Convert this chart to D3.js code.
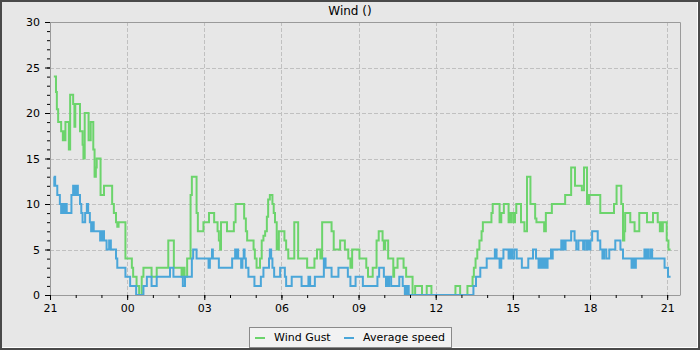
<!DOCTYPE html>
<html>
<head>
<meta charset="utf-8">
<script src="https://cdn.jsdelivr.net/npm/d3@7"></script>
<style>
body { margin: 0; background: #e7e7e7; }
text { font-family: "DejaVu Sans", sans-serif; font-size: 11px; fill: #000; }
</style>
</head>
<body>
<div class="render"></div>
<script>
"use strict";

// minutes after 21:00, value
var gust = [[9,24],[14,22.3],[16,20.4],[19,19],[26,18],[30,17],[33,18],[34,17],[36,19],[44,16],[47,22],[54,21],[57,18.5],[59,21],[70,18],[76,16.5],[78,15],[81,20],[90,17],[95,19],[101,16],[104,13],[107,14],[109,15],[118,11],[126,12],[145,10],[149,9],[154,8],[157,7.5],[160,8],[176,4],[191,3],[194,2],[202,1],[208,0],[214,2],[218,3],[237,2],[249,3],[276,6],[289,3],[307,2],[310,3],[314,2],[320,4],[328,11],[331,13],[342,9],[345,7],[358,8],[371,9],[383,8],[391,7],[394,6],[397,5],[399,8],[413,7],[429,8],[433,10],[453,8.4],[457,7],[460,6],[475,5],[478,4],[482,3],[490,4],[494,6],[498,6.5],[502,7],[506,8.6],[509,10.5],[513,11],[519,10],[522,9],[525,8],[529,5],[531,6],[533,5],[534,7],[547,6],[551,5],[556,4],[570,8],[579,4],[600,3],[617,4],[623,5],[631,4],[635,8],[657,7],[662,5],[677,6],[688,5],[696,4],[701,3],[705,5],[722,4],[738,3],[742,2],[753,3],[762,6],[767,7],[776,6],[779,5],[782,6],[789,4],[801,2],[803,3],[811,4],[825,3],[831,2],[846,0],[852,1],[868,0],[879,1],[890,0],[946,1],[957,0],[974,1],[986,2],[989,3],[993,4],[997,5],[1002,6],[1007,7],[1010,8],[1030,9],[1033,10],[1049,8],[1053,9],[1059,10],[1070,8],[1072,9],[1073,8],[1076,9],[1081,8],[1085,9],[1088,10],[1099,8],[1107,7],[1113,13],[1121,10],[1132,8.4],[1135,8],[1153,7],[1157,9],[1171,10],[1202,11],[1216,14],[1225,12],[1241,11.5],[1246,14],[1253,10],[1255,11],[1256,10],[1258,11],[1284,9],[1316,10],[1322,12],[1333,10],[1337,6],[1340,7],[1342,9],[1354,8],[1364,7],[1375,9],[1393,8],[1407,9],[1418,8],[1423,7],[1425,8],[1427,7],[1430,8],[1439,6],[1443,5],[1448,5]];

var avg = [[9,13],[10,12],[11,13],[12,12],[14,12],[17,11],[23,10],[26,9],[30,10],[33,9],[36,10],[39,9],[50,11],[54,12],[58,11],[62,12],[65,11],[70,10],[73,9],[76,8],[82,9],[86,10],[89,9],[93,8],[96,7],[99,8],[102,7],[117,6],[119,7],[121,6],[124,7],[126,6],[132,5],[138,6],[142,5],[154,4],[157,3],[176,2],[187,1],[201,0],[218,1],[226,2],[237,1],[249,2],[280,3],[288,2],[310,1],[315,2],[331,4],[334,5],[342,4],[370,3],[373,4],[378,5],[380,4],[394,3],[425,4],[432,5],[434,4],[436,5],[439,4],[446,3],[449,4],[452,5],[454,4],[457,3],[463,2],[477,1],[492,2],[498,3],[511,4],[513,5],[516,4],[519,3],[523,2],[537,3],[548,2],[551,1],[564,2],[587,1],[603,2],[607,1],[618,2],[639,4],[643,3],[657,2],[673,3],[695,2],[701,1],[713,2],[730,1],[764,2],[768,3],[779,2],[784,1],[786,2],[789,1],[791,2],[796,1],[815,2],[823,1],[828,0],[831,1],[834,0],[836,1],[837,0],[988,1],[994,2],[1004,3],[1019,4],[1038,5],[1042,4],[1049,3],[1053,4],[1058,5],[1070,4],[1074,5],[1078,4],[1083,5],[1089,4],[1101,3],[1116,4],[1127,5],[1134,4],[1140,3],[1142,4],[1144,3],[1147,4],[1149,3],[1152,4],[1154,3],[1157,4],[1159,3],[1161,4],[1169,5],[1171,4],[1173,5],[1176,5],[1193,6],[1196,5],[1198,6],[1201,5],[1203,6],[1216,7],[1224,6],[1228,5],[1233,6],[1244,5],[1247,6],[1252,5],[1256,6],[1257,5],[1261,6],[1265,7],[1278,6],[1284,5],[1289,4],[1293,5],[1298,4],[1305,5],[1319,6],[1331,5],[1337,4],[1357,3],[1359,4],[1361,3],[1363,4],[1365,3],[1367,4],[1387,5],[1390,4],[1392,5],[1396,4],[1401,5],[1405,4],[1434,3],[1442,2],[1448,2]];

var seriesNames = ["Wind Gust", "Average speed"];
var seriesColors = ["#6cd46c", "#4aa6d9"];
var yTicks = [0, 5, 10, 15, 20, 25, 30];
var title = "Wind ()";

var w = 700, h = 350;
var pL = 50, pR = 680, pT = 22, pB = 295;
var start = new Date(2024, 0, 1, 21, 0);
var spanMin = 1470;

function toDate(m) { return new Date(+start + m * 60000); }

var svg = d3.select(".render").append("svg").attr("width", w).attr("height", h);

svg.append("rect").attr("x", 1).attr("y", 1).attr("width", w - 2).attr("height", h - 2)
   .attr("fill", "#e7e7e7").attr("stroke", "#4a4a4a").attr("stroke-width", 2);
svg.append("path").attr("d", "M697.5,2V347.5H2").attr("fill", "none").attr("stroke", "#fff");

var x = d3.scaleTime().domain([start, toDate(spanMin)]).range([pL, pR]);
var y = d3.scaleLinear().domain([0, 30]).range([pB, pT]);

// grid
var grid = svg.append("g").attr("stroke", "#c0c0c0").attr("stroke-dasharray", "4,2").attr("shape-rendering", "crispEdges");
grid.selectAll(".gy").data(yTicks.filter(function (d) { return d > 0 && d < 30; })).enter().append("line")
   .attr("x1", pL).attr("x2", pR).attr("y1", function (d) { return Math.round(y(d)) + 0.5; })
   .attr("y2", function (d) { return Math.round(y(d)) + 0.5; });
grid.selectAll(".gx").data(x.ticks(d3.timeHour.every(3)).slice(1)).enter().append("line")
   .attr("y1", pT).attr("y2", pB).attr("x1", function (d) { return Math.round(x(d)) + 0.5; })
   .attr("x2", function (d) { return Math.round(x(d)) + 0.5; });

// plot frame top/right
svg.append("path").attr("d", "M" + pL + "," + (pT + 0.5) + "H" + (pR + 0.5) + "V" + pB)
   .attr("fill", "none").attr("stroke", "#9a9a9a");

svg.append("clipPath").attr("id", "clip").append("rect")
   .attr("x", pL).attr("y", pT).attr("width", pR - pL).attr("height", pB - pT + 1);

var line = d3.line().curve(d3.curveStepAfter)
   .x(function (d) { return x(toDate(d[0])); })
   .y(function (d) { return y(d[1]); });

[gust, avg].forEach(function (data, i) {
   svg.append("path").datum(data).attr("clip-path", "url(#clip)")
      .attr("fill", "none").attr("stroke", seriesColors[i]).attr("stroke-width", 2)
      .attr("d", line);
});

// axes
svg.append("g").attr("transform", "translate(" + pL + ",0)")
   .call(d3.axisLeft(y).tickValues(yTicks).tickSize(5).tickSizeOuter(0).tickPadding(5));
svg.append("g").attr("transform", "translate(" + pL + ",0)")
   .call(d3.axisLeft(y).tickValues(d3.range(0, 31)).tickSize(3).tickSizeOuter(0).tickFormat(""))
   .select(".domain").remove();
svg.append("g").attr("transform", "translate(0," + pB + ")")
   .call(d3.axisBottom(x).ticks(d3.timeHour.every(3)).tickFormat(d3.timeFormat("%H")).tickSize(5).tickSizeOuter(0).tickPadding(4));
svg.append("g").attr("transform", "translate(0," + pB + ")")
   .call(d3.axisBottom(x).ticks(d3.timeHour.every(1)).tickSize(3).tickSizeOuter(0).tickFormat(""))
   .select(".domain").remove();

svg.selectAll(".domain").attr("stroke", "#9a9a9a");
svg.selectAll(".tick line").attr("stroke", "#000");
svg.selectAll(".tick text").attr("font-family", null).attr("font-size", null);

svg.append("text").text(title).attr("x", 350).attr("y", 15).attr("text-anchor", "middle").style("font-size", "12px");

// legend
var lg = svg.append("g");
lg.append("rect").attr("x", 249.5).attr("y", 327.5).attr("width", 202).attr("height", 20)
   .attr("fill", "#f2f2f2").attr("stroke", "#8a8a8a");
var lx = [255, 344];
seriesNames.forEach(function (name, i) {
   lg.append("line").attr("x1", lx[i]).attr("x2", lx[i] + 10).attr("y1", 338).attr("y2", 338)
      .attr("stroke", seriesColors[i]).attr("stroke-width", 2);
   lg.append("text").text(name).attr("x", lx[i] + 19).attr("y", 341);
});
</script>
</body>
</html>
